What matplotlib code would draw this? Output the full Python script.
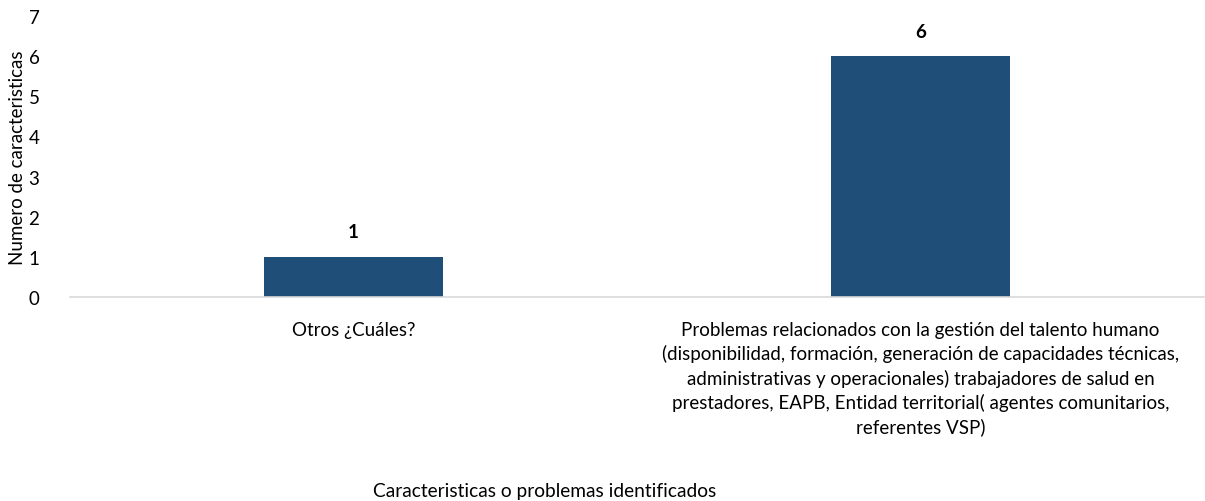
import matplotlib
matplotlib.use("Agg")
import matplotlib.pyplot as plt

plt.rcParams["font.family"] = ["Lato", "DejaVu Sans"]

categories = [
    "Otros ¿Cuáles?",
    "Problemas relacionados con la gestión del talento humano\n"
    "(disponibilidad, formación, generación de capacidades técnicas,\n"
    "administrativas y operacionales) trabajadores de salud en\n"
    "prestadores, EAPB, Entidad territorial( agentes comunitarios,\n"
    "referentes VSP)",
]
values = [1, 6]
yticks = [0, 1, 2, 3, 4, 5, 6, 7]

fig = plt.figure(figsize=(12.05, 5.02), dpi=100)
ax = fig.add_axes([70 / 1205, 204 / 502, 1134 / 1205, 281 / 502])

x = range(len(categories))
bars = ax.bar(x, values, width=0.314, color="#1F4E79")
for b, v in zip(bars, values):
    ax.text(b.get_x() + b.get_width() / 2, v + 0.62, str(v), ha="center",
            va="center", fontsize=13.5, fontweight="bold", color="#000000")

ax.set_xlim(-0.5, 1.5)
ax.set_ylim(0, 7)
ax.set_yticks(yticks)
ax.set_xticks(list(x))
ax.set_xticklabels(categories, fontsize=13.7, linespacing=1.43)
ax.tick_params(axis="both", length=0, labelsize=13.5, colors="#000000")
ax.tick_params(axis="x", pad=17)
ax.tick_params(axis="y", pad=22)
for s in ["top", "right", "left"]:
    ax.spines[s].set_visible(False)
ax.spines["bottom"].set_color("#D9D9D9")
ax.spines["bottom"].set_linewidth(1.2)

ax.set_ylabel("Numero de caracteristicas", fontsize=13.5, labelpad=2)
fig.text(545 / 1205, 1 - 492 / 502, "Caracteristicas o problemas identificados",
         ha="center", va="center", fontsize=13.8)

fig.savefig("out.png", dpi=100)
